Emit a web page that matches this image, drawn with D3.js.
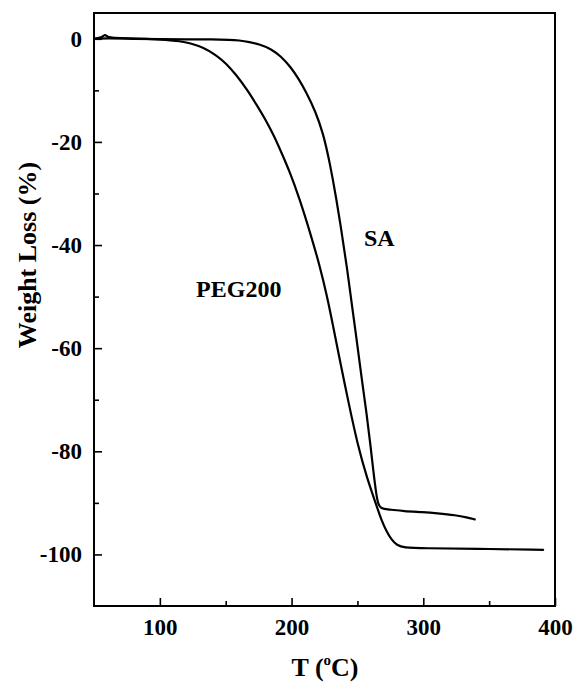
<!DOCTYPE html>
<html>
<head>
<meta charset="utf-8">
<script src="https://cdn.jsdelivr.net/npm/d3@7/dist/d3.min.js"></script>
<style>
  html, body { margin: 0; padding: 0; background: #fff; }
  svg { display: block; }
  text { font-family: "Liberation Serif", "Times New Roman", serif; font-weight: bold; fill: #000; }
</style>
</head>
<body>
<script>
// ---- data ----
const saT = [50, 60, 80, 100, 120, 140, 153, 160, 168, 176, 184, 192, 199, 205, 211, 218, 224, 229, 234, 238, 242, 246, 249.5, 253, 257, 260, 262, 264.5, 266, 267.5, 270, 275, 285, 300, 310, 325, 333, 339];
const saW = [0, 0.1, 0, -0.1, -0.1, -0.1, -0.2, -0.3, -0.6, -1.1, -1.9, -3.4, -5.4, -7.6, -10.3, -14, -18.3, -24, -31, -37.5, -44.2, -52, -58.5, -65.5, -72.7, -79, -83.7, -88.8, -90.4, -90.9, -91.2, -91.3, -91.6, -91.8, -92, -92.4, -92.8, -93.2];

const pegT = [50, 55, 57, 58.5, 60, 65, 75, 90, 105, 115, 123, 133, 143, 150, 158, 166, 173.5, 180, 186, 191, 199, 206, 214, 221.6, 227, 231, 236, 244, 250, 257, 264.6, 268, 272, 276, 280, 285, 300, 340, 391];
const pegW = [0, 0.2, 0.5, 0.9, 0.3, 0.2, 0.1, 0, -0.2, -0.45, -0.85, -1.7, -3.2, -4.7, -7.0, -9.8, -12.8, -15.6, -18.5, -21.3, -26, -31, -37.5, -44.2, -50, -55, -61.5, -71.5, -78.5, -85, -90.6, -93.2, -95.5, -97.2, -98.2, -98.7, -98.8, -98.9, -99.1];

const xTicks = [100, 200, 300, 400];
const xMinorTicks = [150, 250, 350];
const yTicks = [0, -20, -40, -60, -80, -100];
const yMinorTicks = [-10, -30, -50, -70, -90];

const seriesLabels = [
  { text: "SA", T: 255, W: -40.2 },
  { text: "PEG200", T: 127.5, W: -50.1 }
];

// ---- layout ----
const W = 574, H = 685;
const m = { left: 94, top: 13, right: 555, bottom: 606 };
const fontStack = "'Liberation Serif', 'Times New Roman', serif";

const svg = d3.select("body").append("svg").attr("width", W).attr("height", H);

const x = d3.scaleLinear().domain([50, 400]).range([m.left, m.right]);
const y = d3.scaleLinear().domain([-110, 5]).range([m.bottom, m.top]);

const fmt = d => String(d); // plain hyphen-minus as in the reference

// axes (ticks pointing inward)
const xAxis = svg.append("g").attr("transform", `translate(0,${m.bottom})`)
  .call(d3.axisBottom(x).tickValues(xTicks).tickSizeInner(-8).tickSizeOuter(0).tickPadding(13).tickFormat(fmt));
svg.append("g").attr("transform", `translate(0,${m.bottom})`)
  .call(d3.axisBottom(x).tickValues(xMinorTicks).tickSizeInner(-5).tickSizeOuter(0).tickFormat(""));
const yAxis = svg.append("g").attr("transform", `translate(${m.left},0)`)
  .call(d3.axisLeft(y).tickValues(yTicks).tickSizeInner(-8).tickSizeOuter(0).tickPadding(12).tickFormat(fmt));
svg.append("g").attr("transform", `translate(${m.left},0)`)
  .call(d3.axisLeft(y).tickValues(yMinorTicks).tickSizeInner(-5).tickSizeOuter(0).tickFormat(""));

svg.selectAll(".domain").remove();
svg.selectAll(".tick line").attr("stroke", "#000").attr("stroke-width", 1.6);
svg.selectAll(".tick text").style("font-size", "23px").style("font-family", fontStack).style("font-weight", "bold").attr("fill", "#000");
xAxis.selectAll(".tick text").attr("dy", "0.71em");

// frame
svg.append("rect")
  .attr("x", m.left).attr("y", m.top)
  .attr("width", m.right - m.left).attr("height", m.bottom - m.top)
  .attr("fill", "none").attr("stroke", "#000").attr("stroke-width", 2);

// curves
const line = d3.line().x(d => x(d[0])).y(d => y(d[1])).curve(d3.curveBasis);
const sa = saT.map((t, i) => [t, saW[i]]);
const peg = pegT.map((t, i) => [t, pegW[i]]);
[sa, peg].forEach(data => {
  svg.append("path").datum(data).attr("d", line)
    .attr("fill", "none").attr("stroke", "#000").attr("stroke-width", 2.2)
    .attr("stroke-linejoin", "round").attr("stroke-linecap", "round");
});

// series labels
seriesLabels.forEach(l => {
  svg.append("text").attr("x", x(l.T)).attr("y", y(l.W))
    .style("font-size", "24px").text(l.text);
});

// axis titles
const xt = svg.append("text").attr("x", 325).attr("y", 676).attr("text-anchor", "middle").style("font-size", "26px");
xt.append("tspan").text("T (");
xt.append("tspan").attr("dy", -11).style("font-size", "15px").text("o");
xt.append("tspan").attr("dy", 11).text("C)");

svg.append("text")
  .attr("transform", `translate(36,255) rotate(-90)`)
  .attr("text-anchor", "middle").style("font-size", "26px")
  .text("Weight Loss (%)");
</script>
</body>
</html>
